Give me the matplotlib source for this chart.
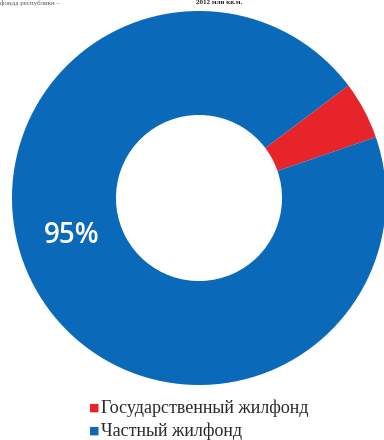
import matplotlib.pyplot as plt
import matplotlib as mpl

mpl.rcParams['font.family'] = ['Open Sans', 'DejaVu Sans']

# данные
labels = ['Государственный жилфонд', 'Частный жилфонд']
shares = [5, 95]
colors = ['#e8242b', '#0a69b8']

fig = plt.figure(figsize=[3.84, 4.40], dpi=100)
ax = fig.add_axes([12 / 384, 55 / 440, 374 / 384, 374 / 440])

wedges, _ = ax.pie(shares, colors=colors, startangle=19, counterclock=True,
                   radius=1.0, wedgeprops=dict(width=0.556, edgecolor='none'))
ax.set_xlim(-1, 1)
ax.set_ylim(-1, 1)
ax.set_aspect('equal')
ax.axis('off')

# подпись доли
ax.text(-0.68, -0.2, '%d%%' % shares[1], color='white', fontsize=20,
        fontweight='semibold', ha='center', va='center')

# заголовок сверху (в оригинале почти срезан)
fig.text(0.0, 1.0, 'фонда республики –', fontsize=5,
         family='Liberation Serif', color='#555555', ha='left', va='top')
fig.text(0.51, 1.0, '2012 млн кв.м.', fontsize=5, fontweight='bold',
         family='Liberation Serif', color='#222222', ha='left', va='top')

# легенда
ys = [1 - 408 / 440, 1 - 431 / 440]
for lab, col, y in zip(labels, colors, ys):
    fig.text(94 / 384, y, '\u25a0', color=col, fontsize=8, ha='center',
             va='center', family='DejaVu Sans')
    fig.text(101 / 384, y, lab, color='#2a2a2a', fontsize=13,
             family='Liberation Serif', ha='left', va='center')

plt.savefig('out.png', dpi=100)
